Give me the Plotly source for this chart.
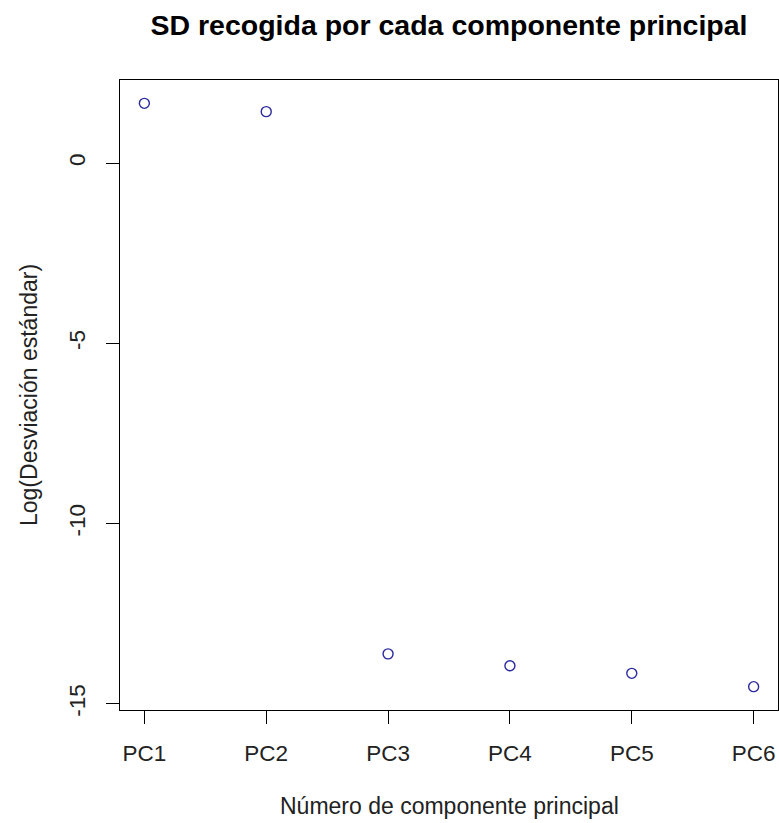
import plotly.graph_objects as go

# Log of the standard deviation captured by each principal component
componentes = ["PC1", "PC2", "PC3", "PC4", "PC5", "PC6"]
log_sd = [1.66, 1.43, -13.61, -13.94, -14.15, -14.52]
y_ticks = [0, -5, -10, -15]

W, H = 779, 823
L, R, T, B = 120, 1, 80, 113
FONT = "Liberation Sans, Arial, sans-serif"

idx = list(range(1, len(componentes) + 1))
span_y = max(log_sd) - min(log_sd)
y_range = [min(log_sd) - 0.04 * span_y, max(log_sd) + 0.04 * span_y]
x_range = [1 - 0.04 * (len(idx) - 1), len(idx) + 0.04 * (len(idx) - 1)]

fig = go.Figure(
    go.Scatter(
        x=idx,
        y=log_sd,
        mode="markers",
        marker=dict(
            symbol="circle-open",
            size=10,
            color="#2a2a9e",
            line=dict(width=1.4, color="#2a2a9e"),
        ),
        showlegend=False,
        hoverinfo="x+y",
    )
)

axis_common = dict(
    showgrid=False,
    zeroline=False,
    showline=True,
    linecolor="black",
    linewidth=1.3,
    mirror=True,
    ticks="outside",
    ticklen=13,
    tickwidth=1.3,
    tickcolor="black",
    tickfont=dict(family=FONT, size=22.5, color="#222222"),
)

fig.update_xaxes(
    range=x_range,
    tickmode="array",
    tickvals=idx,
    ticktext=componentes,
    ticklabelstandoff=10,
    **axis_common,
)
fig.update_yaxes(
    range=y_range,
    tickmode="array",
    tickvals=y_ticks,
    ticktext=[str(v) for v in y_ticks],
    tickangle=-90,
    ticklabelstandoff=12,
    **axis_common,
)

fig.update_layout(
    width=W,
    height=H,
    margin=dict(l=L, r=R, t=T, b=B),
    paper_bgcolor="white",
    plot_bgcolor="white",
    title=dict(
        text="<b>SD recogida por cada componente principal</b>",
        font=dict(family=FONT, size=28.5, color="black"),
        x=(L + (W - R - L) / 2) / W,
        xanchor="center",
        y=1 - 25 / H,
        yanchor="middle",
        xref="container",
        yref="container",
    ),
    annotations=[
        dict(
            text="Número de componente principal",
            xref="paper",
            yref="paper",
            x=0.5,
            y=0,
            yshift=-96,
            xanchor="center",
            yanchor="middle",
            showarrow=False,
            font=dict(family=FONT, size=23, color="#222222"),
        ),
        dict(
            text="Log(Desviación estándar)",
            xref="paper",
            yref="paper",
            x=0,
            y=0.5,
            xshift=-91,
            xanchor="center",
            yanchor="middle",
            textangle=-90,
            showarrow=False,
            font=dict(family=FONT, size=23, color="#222222"),
        ),
    ],
)

fig.write_html("out.html")
